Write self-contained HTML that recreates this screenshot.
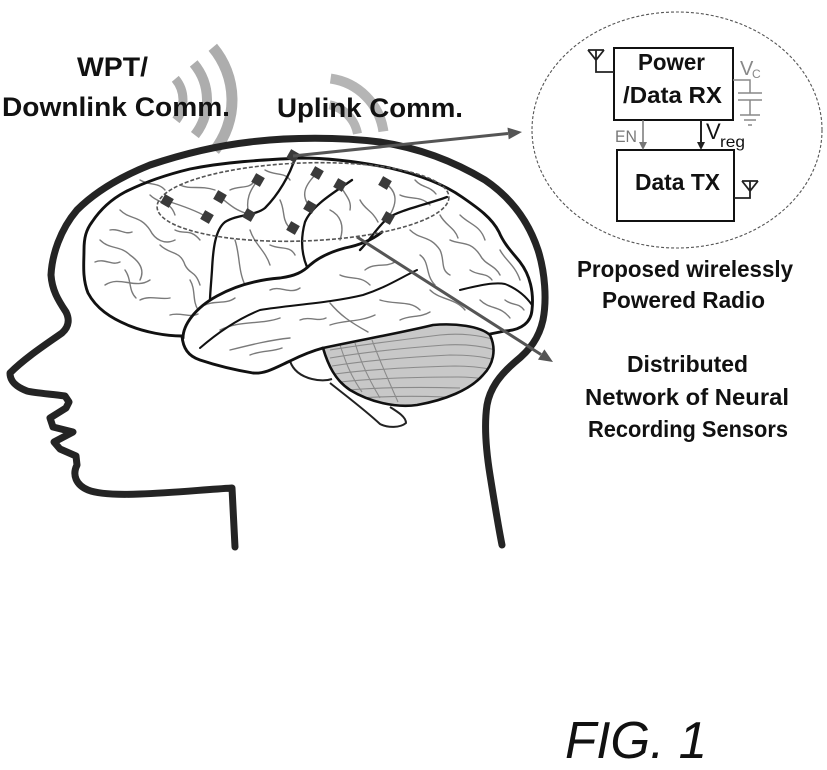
<!DOCTYPE html>
<html>
<head>
<meta charset="utf-8">
<style>
  html,body{margin:0;padding:0;background:#fff;}
  svg{display:block;}
  .b{font-family:"Liberation Sans",sans-serif;font-weight:bold;fill:#111;}
  .n{font-family:"Liberation Sans",sans-serif;}
</style>
</head>
<body>
<svg width="827" height="770" viewBox="0 0 827 770" xmlns="http://www.w3.org/2000/svg">
  <rect width="827" height="770" fill="#fff"/>
  <defs>
    <clipPath id="cb">
      <path d="M323,348 C360,340 400,333 433,325 C455,323 480,326 490,335 C497,350 493,365 483,375 C470,390 445,400 417,405 C395,408 370,402 350,390 C335,380 328,365 323,348 Z"/>
    </clipPath>
  </defs>

  <!-- WPT waves -->
  <g fill="none" stroke="#adadad" stroke-linecap="butt">
    <path d="M175.3,78.8 A33,33 0 0 1 176,120.3" stroke-width="9"/>
    <path d="M193.7,63.4 A57,57 0 0 1 194.9,135.1" stroke-width="10"/>
    <path d="M212.8,47.3 A82,82 0 0 1 214.6,150.5" stroke-width="11"/>
  </g>
  <!-- Uplink waves -->
  <g fill="none" stroke="#b5b5b5">
    <path d="M329.5,104.8 A36,36 0 0 1 357.5,133.7" stroke-width="9"/>
    <path d="M330.6,78.6 A62,62 0 0 1 383.4,131.4" stroke-width="10"/>
  </g>

  <!-- gray gyri -->
  <g fill="none" stroke="#7a7a7a" stroke-width="1.4" stroke-linecap="round">
    <path d="M100,240 C110,250 120,245 130,255 C140,262 145,270 140,280"/>
    <path d="M105,285 C120,275 135,290 150,280"/>
    <path d="M120,210 C130,220 140,215 150,230 C155,240 165,245 175,240"/>
    <path d="M140,300 C150,295 160,300 170,298"/>
    <path d="M160,245 C170,255 180,250 185,265 C190,275 195,270 200,285"/>
    <path d="M150,195 C160,205 170,200 175,215"/>
    <path d="M180,185 C190,190 200,185 215,190"/>
    <path d="M175,230 C185,235 190,228 200,240"/>
    <path d="M235,240 C240,255 238,270 245,285"/>
    <path d="M250,230 C255,245 265,250 270,265"/>
    <path d="M270,245 C280,250 290,245 295,255"/>
    <path d="M230,190 C240,185 250,190 255,180"/>
    <path d="M330,210 C340,215 345,225 340,240"/>
    <path d="M360,200 C365,210 372,210 378,222"/>
    <path d="M400,195 C410,200 420,195 430,205"/>
    <path d="M410,230 C420,240 430,235 440,250 C445,260 440,270 450,275"/>
    <path d="M460,215 C470,225 480,225 485,240"/>
    <path d="M450,240 C460,245 470,240 480,255 C485,265 495,265 500,275"/>
    <path d="M500,250 C505,260 515,265 520,280"/>
    <path d="M430,290 C440,300 455,298 465,310"/>
    <path d="M480,300 C490,310 500,305 510,318"/>
    <path d="M340,275 C350,280 360,275 370,285"/>
    <path d="M380,300 C395,305 410,300 420,310"/>
    <path d="M270,290 C280,285 290,295 300,288"/>
    <path d="M330,325 C345,320 360,322 375,315"/>
    <path d="M220,330 C240,320 260,325 280,318"/>
    <path d="M400,320 C410,315 420,318 430,312"/>
    <path d="M230,350 C250,345 270,340 290,338"/>
    <path d="M205,305 C215,300 225,305 235,298"/>
    <path d="M330,303 C340,315 350,322 368,332"/>
    <path d="M420,255 C430,262 425,275 435,285"/>
    <path d="M220,197 C230,205 235,210 248,214"/>
    <path d="M167,201 C180,205 195,210 207,217"/>
    <path d="M317,173 C305,185 300,195 310,207"/>
    <path d="M385,183 C395,190 400,200 388,218"/>
    <path d="M340,185 C345,195 352,200 350,210"/>
    <path d="M258,180 C250,190 245,200 249,215"/>
    <path d="M95,262 C105,258 112,266 120,262"/>
    <path d="M125,270 C132,280 128,290 136,298"/>
    <path d="M110,230 C118,228 125,235 132,232"/>
    <path d="M190,280 C196,290 192,300 198,310"/>
    <path d="M170,315 C180,312 190,318 198,314"/>
    <path d="M140,180 C150,186 158,182 165,190"/>
    <path d="M265,170 C275,176 285,172 290,180"/>
    <path d="M365,270 C375,262 385,268 395,262"/>
    <path d="M440,215 C445,225 455,228 458,238"/>
    <path d="M505,300 C512,306 518,302 524,310"/>
    <path d="M470,270 C478,276 486,272 492,280"/>
    <path d="M250,355 C262,350 272,352 282,348"/>
    <path d="M300,320 C310,316 318,322 326,318"/>
    <path d="M415,180 C422,188 430,186 436,194"/>
    <path d="M280,200 C285,210 282,218 288,226"/>
  </g>

  <!-- cerebellum -->
  <path d="M323,348 C360,340 400,333 433,325 C455,323 480,326 490,335 C497,350 493,365 483,375 C470,390 445,400 417,405 C395,408 370,402 350,390 C335,380 328,365 323,348 Z" fill="#c8c8c8"/>
  <g clip-path="url(#cb)" fill="none" stroke="#8a8a8a" stroke-width="1.1">
    <path d="M330,350 C360,345 400,340 440,335 C460,333 480,335 495,340"/>
    <path d="M330,358 C365,352 405,348 445,345 C465,344 482,346 495,350"/>
    <path d="M332,366 C370,360 410,357 450,355 C470,355 485,357 495,360"/>
    <path d="M335,374 C372,369 415,367 455,366 C472,366 485,368 495,370"/>
    <path d="M340,382 C378,378 420,377 458,377 C475,377 485,379 492,380"/>
    <path d="M348,390 C385,387 425,387 460,388"/>
    <path d="M360,398 C390,396 420,396 445,397"/>
    <path d="M340,345 C345,360 350,375 362,392"/>
    <path d="M355,343 C360,360 368,378 380,398"/>
    <path d="M372,340 C378,356 386,375 398,402"/>
  </g>
  <path d="M323,348 C360,340 400,333 433,325 C455,323 480,326 490,335 C497,350 493,365 483,375 C470,390 445,400 417,405 C395,408 370,402 350,390 C335,380 328,365 323,348 Z" fill="none" stroke="#111" stroke-width="2.6"/>

  <!-- brainstem / pons -->
  <g fill="none" stroke="#222" stroke-width="2" stroke-linejoin="round">
    <path d="M290,361 C293,370 300,376 312,379 C320,381 326,381 332,379"/>
    <path d="M330,383 C345,395 365,410 380,424 C388,428 400,428 406,423 C406,417 398,412 390,407"/>
  </g>

  <!-- brain outline -->
  <g fill="none" stroke="#111" stroke-width="2.9" stroke-linecap="round" stroke-linejoin="round">
    <path d="M182,336 C165,336 145,332 130,326 C110,318 96,308 88,293 C82,278 84,262 84,250 C84,238 86,230 92,222 C100,210 110,200 125,192 C145,182 165,175 190,169 C225,162 260,160 300,158 C330,158 360,162 390,168 C420,175 445,185 462,197 C478,208 492,218 499,232 C504,244 512,252 520,262 C530,275 534,292 532,310 C531,322 522,330 505,331 L490,334"/>
    <path d="M182,336 C183,348 188,356 200,360 C215,365 235,370 253,373 C265,374 275,368 290,361 C300,356 312,351 323,348"/>
    <path d="M183,338 C183,325 195,308 217,296 C235,286 255,280 280,278 C295,276 303,272 310,265 C318,258 330,252 345,248 C360,245 372,240 382,232"/>
    <path d="M200,348 C215,335 235,320 260,310 C290,305 330,303 363,295 C385,288 400,278 417,270" stroke-width="2"/>
    <path d="M295,158 C290,175 278,195 265,208 C255,216 238,214 225,222 C215,230 213,250 212,270 C211,285 210,295 210,300" stroke-width="2.3"/>
    <path d="M352,180 C335,192 312,205 305,222 C300,240 302,255 307,267" stroke-width="2.3"/>
    <path d="M447,197 C425,205 400,210 388,218 C378,226 370,240 360,250" stroke-width="2.3"/>
    <path d="M460,290 C480,285 495,282 505,284 C515,288 525,295 532,305" stroke-width="2"/>
  </g>

  <!-- dashed sensor ellipse -->
  <ellipse cx="303" cy="202" rx="146" ry="39" fill="none" stroke="#555" stroke-width="1.6" stroke-dasharray="4,2" transform="rotate(-2 303 202)"/>

  <!-- sensors -->
  <g fill="#3a3a3a">
    <rect x="288" y="151" width="10" height="10" transform="rotate(30 293 156)"/>
    <rect x="312" y="168" width="10" height="10" transform="rotate(30 317 173)"/>
    <rect x="335" y="180" width="10" height="10" transform="rotate(30 340 185)"/>
    <rect x="380" y="178" width="10" height="10" transform="rotate(30 385 183)"/>
    <rect x="253" y="175" width="10" height="10" transform="rotate(30 258 180)"/>
    <rect x="215" y="192" width="10" height="10" transform="rotate(30 220 197)"/>
    <rect x="162" y="196" width="10" height="10" transform="rotate(30 167 201)"/>
    <rect x="202" y="212" width="10" height="10" transform="rotate(30 207 217)"/>
    <rect x="244" y="210" width="10" height="10" transform="rotate(30 249 215)"/>
    <rect x="305" y="202" width="10" height="10" transform="rotate(30 310 207)"/>
    <rect x="288" y="223" width="10" height="10" transform="rotate(30 293 228)"/>
    <rect x="383" y="213" width="10" height="10" transform="rotate(30 388 218)"/>
  </g>

  <!-- head outline -->
  <path d="M235,547 L232,488 C200,490 170,493 140,494 C115,495 98,494 88,490 C76,485 72,475 77,465 L76,456 L60,449 L54,442 L73,432 L53,427 L50,418 L66,408 L69,402 L65,396 C50,394 35,393 27,391 C14,386 10,380 10,373 C25,358 45,345 62,333 C70,326 69,318 66,312 C58,300 52,290 51,275 C52,255 60,230 77,210 C95,192 120,177 150,165 C180,155 215,146 250,142 C290,137 340,137 380,142 C420,148 455,162 485,180 C510,197 528,220 538,250 C545,272 547,300 543,320 C539,338 530,350 515,362 C500,375 490,388 487,405 C484,425 486,450 490,475 C494,500 498,525 502,545" fill="none" stroke="#242424" stroke-width="7" stroke-linejoin="round" stroke-linecap="round"/>

  <!-- arrows -->
  <g stroke="#555" stroke-width="3" fill="none">
    <line x1="293" y1="156" x2="508" y2="133.5"/>
    <line x1="357" y1="237" x2="541" y2="354.5"/>
  </g>
  <g fill="#555">
    <polygon points="522,132 508.7,139.4 507.5,127.6"/>
    <polygon points="553,362 538,359.6 544.4,349.4"/>
  </g>

  <!-- top labels -->
  <text class="b" x="77" y="76" font-size="27" textLength="71" lengthAdjust="spacingAndGlyphs">WPT/</text>
  <text class="b" x="2" y="116" font-size="27" textLength="228" lengthAdjust="spacingAndGlyphs">Downlink Comm.</text>
  <text class="b" x="277" y="117" font-size="27" textLength="186" lengthAdjust="spacingAndGlyphs">Uplink Comm.</text>

  <!-- radio circuit -->
  <ellipse cx="677" cy="130" rx="145" ry="118" fill="none" stroke="#555" stroke-width="1.1" stroke-dasharray="3,2"/>
  <rect x="614" y="48" width="119" height="72" fill="none" stroke="#111" stroke-width="2"/>
  <rect x="617" y="150" width="117" height="71" fill="none" stroke="#111" stroke-width="2"/>
  <text class="b" x="638" y="70" font-size="23" textLength="67" lengthAdjust="spacingAndGlyphs">Power</text>
  <text class="b" x="623" y="103" font-size="23" textLength="99" lengthAdjust="spacingAndGlyphs">/Data RX</text>
  <text class="b" x="635" y="190" font-size="23" textLength="85" lengthAdjust="spacingAndGlyphs">Data TX</text>

  <g fill="none" stroke="#222" stroke-width="1.8">
    <path d="M588,50 L604,50 M588,50 L596,60 L604,50 M596,50 L596,72 L614,72"/>
    <path d="M742,181 L758,181 M742,181 L750,191 L758,181 M750,181 L750,198 L734,198"/>
  </g>
  <g fill="none" stroke="#888" stroke-width="1.5">
    <path d="M733,80 L750,80 L750,93 M738,93 L762,93 M738,100 L762,100 M750,100 L750,115 M740,115 L760,115 M744,120 L756,120 M748,125 L752,125"/>
  </g>
  <text class="n" x="740" y="75" font-size="20" fill="#888">V</text>
  <text class="n" x="752" y="78" font-size="12" fill="#888">C</text>

  <line x1="643" y1="120" x2="643" y2="143" stroke="#777" stroke-width="1.5"/>
  <polygon points="639,142 647,142 643,150" fill="#777"/>
  <line x1="701" y1="120" x2="701" y2="143" stroke="#222" stroke-width="2"/>
  <polygon points="697,142 705,142 701,150" fill="#222"/>
  <text class="n" x="615" y="142" font-size="17" fill="#777" textLength="22" lengthAdjust="spacingAndGlyphs">EN</text>
  <text class="n" x="706" y="139" font-size="22" fill="#111">V</text>
  <text class="n" x="720" y="147" font-size="16" fill="#111" textLength="25" lengthAdjust="spacingAndGlyphs">reg</text>

  <!-- right labels -->
  <text class="b" x="577" y="277" font-size="23" textLength="216" lengthAdjust="spacingAndGlyphs">Proposed wirelessly</text>
  <text class="b" x="602" y="308" font-size="23" textLength="163" lengthAdjust="spacingAndGlyphs">Powered Radio</text>
  <text class="b" x="627" y="372" font-size="23" textLength="121" lengthAdjust="spacingAndGlyphs">Distributed</text>
  <text class="b" x="585" y="405" font-size="23" textLength="204" lengthAdjust="spacingAndGlyphs">Network of Neural</text>
  <text class="b" x="588" y="437" font-size="23" textLength="200" lengthAdjust="spacingAndGlyphs">Recording Sensors</text>

  <!-- figure label -->
  <text class="n" x="565" y="758" font-size="52" font-style="italic" fill="#111" textLength="142" lengthAdjust="spacingAndGlyphs">FIG. 1</text>
</svg>
</body>
</html>
